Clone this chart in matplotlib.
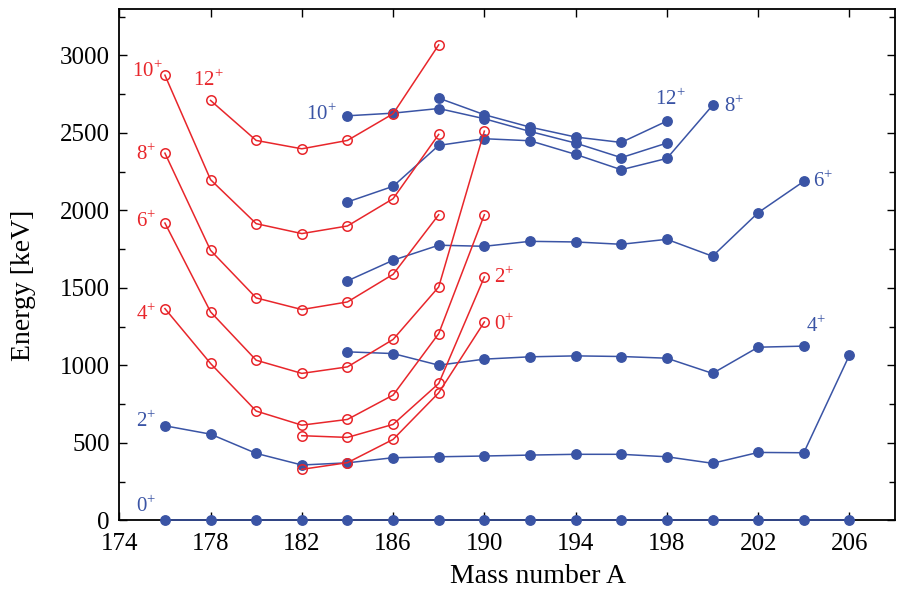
import matplotlib
matplotlib.use("Agg")
import matplotlib.pyplot as plt
from matplotlib.ticker import MultipleLocator

plt.rcParams["font.family"] = ["Liberation Serif", "DejaVu Serif"]
plt.rcParams["mathtext.fontset"] = "custom"
plt.rcParams["mathtext.rm"] = "Liberation Serif"

RED = "#e8262b"
BLUE = "#3a54a5"

# Intruder (deformed) band, open red circles
red_12_A = [178, 180, 182, 184, 186, 188]
red_12_E = [2710, 2452, 2398, 2452, 2624, 3069]
red_10_A = [176, 178, 180, 182, 184, 186, 188]
red_10_E = [2873, 2199, 1915, 1851, 1900, 2076, 2491]
red_8_A = [176, 178, 180, 182, 184, 186, 188]
red_8_E = [2370, 1743, 1436, 1361, 1410, 1588, 1973]
red_6_A = [176, 178, 180, 182, 184, 186, 188, 190]
red_6_E = [1919, 1346, 1034, 949, 991, 1168, 1507, 2512]
red_4_A = [176, 178, 180, 182, 184, 186, 188, 190]
red_4_E = [1367, 1013, 706, 615, 652, 809, 1206, 1973]
red_2_A = [182, 184, 186, 188, 190]
red_2_E = [547, 536, 620, 884, 1571]
red_0_A = [182, 184, 186, 188, 190]
red_0_E = [330, 373, 523, 824, 1281]

# Ground-state band, filled blue circles
blue_0_A = list(range(176, 208, 2))
blue_0_E = [0] * len(blue_0_A)
blue_2_A = list(range(176, 208, 2))
blue_2_E = [611, 557, 433, 358, 372, 405, 411, 416, 422, 427, 427, 411, 369, 439, 437, 1067]
blue_4_A = list(range(184, 206, 2))
blue_4_E = [1088, 1077, 1002, 1041, 1056, 1062, 1058, 1047, 949, 1118, 1125]
blue_6_A = list(range(184, 206, 2))
blue_6_E = [1546, 1679, 1776, 1769, 1801, 1797, 1782, 1814, 1705, 1986, 2188]
blue_8_A = list(range(184, 202, 2))
blue_8_E = [2055, 2156, 2420, 2463, 2450, 2362, 2263, 2336, 2678]
blue_10_A = list(range(184, 200, 2))
blue_10_E = [2611, 2628, 2658, 2592, 2510, 2435, 2341, 2435]
blue_12_A = list(range(188, 200, 2))
blue_12_E = [2725, 2618, 2538, 2474, 2439, 2577]

blue_series = [
    (blue_0_A, blue_0_E), (blue_2_A, blue_2_E), (blue_4_A, blue_4_E),
    (blue_6_A, blue_6_E), (blue_8_A, blue_8_E), (blue_10_A, blue_10_E),
    (blue_12_A, blue_12_E),
]
red_series = [
    (red_0_A, red_0_E), (red_2_A, red_2_E), (red_4_A, red_4_E),
    (red_6_A, red_6_E), (red_8_A, red_8_E), (red_10_A, red_10_E),
    (red_12_A, red_12_E),
]

# spin labels: (text, A, E, colour)
spin_labels = [
    ("10", 174.54, 2861, RED), ("12", 177.21, 2800, RED),
    ("8", 174.73, 2323, RED), ("6", 174.73, 1891, RED),
    ("4", 174.73, 1292, RED), ("2", 190.41, 1529, RED),
    ("0", 190.41, 1228, RED),
    ("2", 174.73, 605, BLUE), ("0", 174.73, 57, BLUE),
    ("10", 182.19, 2581, BLUE), ("12", 197.48, 2678, BLUE),
    ("8", 200.49, 2635, BLUE), ("6", 204.39, 2151, BLUE),
    ("4", 204.09, 1217, BLUE),
]

fig = plt.figure(figsize=(9.01, 5.92), dpi=100)
ax = fig.add_axes((0.1324, 0.1208, 0.861, 0.864))

for A, E in blue_series:
    ax.plot(A, E, "-o", color=BLUE, lw=1.1, ms=6.8, mfc=BLUE, mec=BLUE,
            clip_on=False, zorder=3)
for A, E in red_series:
    ax.plot(A, E, "-o", color=RED, lw=1.1, ms=6.8, mfc="none", mec=RED,
            mew=1.1, clip_on=False, zorder=4)

for txt, A, E, col in spin_labels:
    ax.text(A, E, txt + r"$^{+}$", color=col, fontsize=15,
            ha="left", va="baseline", zorder=5)

ax.set_xlim(174, 208)
ax.set_ylim(0, 3300)
ax.xaxis.set_major_locator(MultipleLocator(4))
ax.yaxis.set_major_locator(MultipleLocator(500))
ax.yaxis.set_minor_locator(MultipleLocator(250))
ax.set_xticks(range(174, 207, 4))
ax.tick_params(which="both", direction="in", top=True, right=True,
               labelsize=18, width=1.0)
ax.tick_params(which="major", length=6)
ax.tick_params(which="minor", length=4)
ax.tick_params(axis="x", pad=9)
ax.tick_params(axis="y", pad=7)
for sp in ax.spines.values():
    sp.set_linewidth(1.3)

ax.set_xlabel("Mass number A", fontsize=20)
ax.set_ylabel("Energy [keV]", fontsize=20)
ax.xaxis.set_label_coords(0.54, -0.085)
ax.yaxis.set_label_coords(-0.108, 0.46)

fig.savefig("out.png", dpi=100)
